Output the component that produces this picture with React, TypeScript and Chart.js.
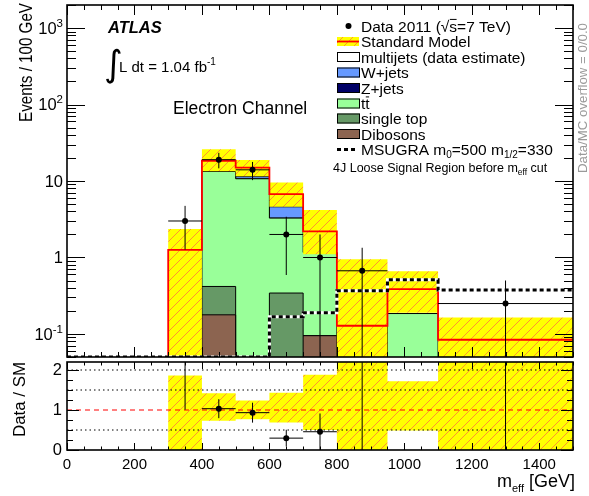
import React, { useEffect, useRef } from "react";
import { Chart, registerables } from "chart.js";

Chart.register(...registerables);

const WIDTH = 589;
const HEIGHT = 496;
const FONT = "'Liberation Sans', Arial, Helvetica, sans-serif";

// Histogram binning in m_eff [GeV]
const binEdges = [0, 100, 200, 300, 400, 500, 600, 700, 800, 950, 1100, 1500];

// Observed data (events / 100 GeV) and its uncertainty
const dataValues = [0, 0, 0, 3, 19, 14, 2, 1, 0.67, 0, 0.25];
const dataErrors = [0, 0, 0, 1.73, 4.36, 3.74, 1.41, 1, 0.67, 0, 0.25];

// Standard Model total and its uncertainty band
const smTotal = [0, 0, 0, 1.26, 18.4, 15.0, 6.74, 2.19, 0.128, 0.386, 0.084];
const smBandLow = [0, 0, 0, 0, 13.4, 11.5, 4.6, 1.1, 0, 0.19, 0];
const smBandHigh = [0, 0, 0, 2.35, 26.1, 18.8, 9.55, 4.17, 0.95, 0.66, 0.164];

// Background components, stacked from the bottom
const dibosons = [0, 0, 0, 0, 0.178, 0, 0, 0.095, 0, 0, 0];
const singleTop = [0, 0, 0, 0, 0.24, 0, 0.343, 0, 0, 0, 0];
const ttbar = [0, 0, 0, 0, 12.9, 10.7, 2.93, 1.07, 0, 0.185, 0];
const zJets = [0, 0, 0, 0, 0, 0, 0, 0, 0, 0, 0];
const wJets = [0, 0, 0, 0, 0, 0.7, 1.33, 0, 0, 0, 0];

// Signal benchmark
const msugra = [0, 0, 0, 0, 0, 0, 0.168, 0.189, 0.367, 0.51, 0.375];

// Relative SM uncertainty in the ratio panel
const ratioBandLow = [0, 0, 0, 0, 0.73, 0.77, 0.69, 0.5, 0, 0.49, 0];
const ratioBandHigh = [0, 0, 0, 1.86, 1.42, 1.24, 1.43, 1.88, 7.4, 1.72, 2.5];

// Axis labels
const logDecades = [-1, 0, 1, 2, 3];
const ratioGuides = [0.5, 1.5, 2];

const FLOOR = 1e-6;
const LOG_MIN = 0.05;
const LOG_MAX = 2000;

type Pt = { x: number; y: number | null };

const centers = binEdges.slice(0, -1).map((e, i) => (e + binEdges[i + 1]) / 2);

function histPoints(values: number[], floor = FLOOR): Pt[] {
  const pts: Pt[] = values.map((v, i) => ({ x: binEdges[i], y: v > 0 ? v : floor }));
  const last = values[values.length - 1];
  pts.push({ x: binEdges[binEdges.length - 1], y: last > 0 ? last : floor });
  return pts;
}

function cumulative(...layers: number[][]): number[] {
  return layers[0].map((_, i) => layers.reduce((s, l) => s + l[i], 0));
}

function verticalBars(vals: number[], errs: number[], floor: number): Pt[] {
  const pts: Pt[] = [];
  vals.forEach((v, i) => {
    if (!(v > 0)) return;
    pts.push({ x: centers[i], y: Math.max(v - errs[i], floor) });
    pts.push({ x: centers[i], y: v + errs[i] });
    pts.push({ x: centers[i], y: null });
  });
  return pts;
}

function horizontalBars(vals: number[]): Pt[] {
  const pts: Pt[] = [];
  vals.forEach((v, i) => {
    if (!(v > 0)) return;
    pts.push({ x: binEdges[i], y: v });
    pts.push({ x: binEdges[i + 1], y: v });
    pts.push({ x: binEdges[i + 1], y: null });
  });
  return pts;
}

function markers(vals: number[]): Pt[] {
  return vals.map((v, i) => ({ x: centers[i], y: v })).filter((p) => (p.y as number) > 0);
}

function hatchPattern(ctx: CanvasRenderingContext2D): CanvasPattern {
  const size = 10;
  const c = document.createElement("canvas");
  c.width = size;
  c.height = size;
  const g = c.getContext("2d")!;
  g.fillStyle = "#ffff00";
  g.fillRect(0, 0, size, size);
  g.strokeStyle = "rgba(255,120,60,0.8)";
  g.lineWidth = 1;
  g.beginPath();
  g.moveTo(0, size);
  g.lineTo(size, 0);
  g.moveTo(-size / 2, size / 2);
  g.lineTo(size / 2, -size / 2);
  g.moveTo(size / 2, size * 1.5);
  g.lineTo(size * 1.5, size / 2);
  g.stroke();
  return ctx.createPattern(c, "repeat")!;
}

function setFont(ctx: CanvasRenderingContext2D, size: number, style = "normal", weight = "normal", family = FONT) {
  ctx.font = `${style} ${weight} ${size}px ${family}`;
}

// Draws consecutive text runs; each run may be shifted (sub/superscript)
function textRuns(
  ctx: CanvasRenderingContext2D,
  runs: { t: string; size: number; dy?: number; bar?: boolean }[],
  x: number,
  y: number,
  color = "#000"
): number {
  ctx.fillStyle = color;
  ctx.strokeStyle = color;
  ctx.textAlign = "left";
  ctx.textBaseline = "alphabetic";
  let cx = x;
  for (const r of runs) {
    setFont(ctx, r.size);
    ctx.fillText(r.t, cx, y + (r.dy ?? 0));
    const w = ctx.measureText(r.t).width;
    if (r.bar) {
      ctx.lineWidth = 1;
      ctx.beginPath();
      const by = y + (r.dy ?? 0) - r.size * 0.78;
      ctx.moveTo(cx + 0.5, by);
      ctx.lineTo(cx + w - 0.5, by);
      ctx.stroke();
    }
    cx += w;
  }
  return cx;
}

// Text squeezed or stretched along its run to a fixed length
function fittedText(
  ctx: CanvasRenderingContext2D,
  s: string,
  x: number,
  y: number,
  size: number,
  length: number,
  angle: number,
  color = "#000"
) {
  ctx.save();
  ctx.translate(x, y);
  ctx.rotate(angle);
  setFont(ctx, size);
  ctx.fillStyle = color;
  ctx.textAlign = "left";
  ctx.textBaseline = "alphabetic";
  const w = ctx.measureText(s).width;
  ctx.scale(length / w, 1);
  ctx.fillText(s, 0, 0);
  ctx.restore();
}

const mainDecor = {
  id: "mainDecor",
  afterDraw(chart: any) {
    const { ctx, chartArea: a, scales } = chart;
    const xs = scales.x;
    const ys = scales.y;
    ctx.save();

    // inward tick marks
    ctx.strokeStyle = "#000";
    ctx.lineWidth = 1;
    ctx.beginPath();
    for (let v = 0; v <= 1500; v += 50) {
      const px = Math.round(xs.getPixelForValue(v)) + 0.5;
      const len = v % 200 === 0 ? 10 : 5;
      ctx.moveTo(px, a.bottom);
      ctx.lineTo(px, a.bottom - len);
      ctx.moveTo(px, a.top);
      ctx.lineTo(px, a.top + len);
    }
    for (let d = -2; d <= 3; d++) {
      for (let k = 1; k <= 9; k++) {
        const v = k * Math.pow(10, d);
        if (v < ys.min || v > ys.max) continue;
        const py = Math.round(ys.getPixelForValue(v)) + 0.5;
        const len = k === 1 ? 18 : 9;
        ctx.moveTo(a.left, py);
        ctx.lineTo(a.left + len, py);
        ctx.moveTo(a.right, py);
        ctx.lineTo(a.right - len, py);
      }
    }
    ctx.stroke();

    // frame
    ctx.lineWidth = 1.6;
    ctx.strokeRect(a.left, a.top, a.right - a.left, a.bottom - a.top);

    // log axis labels
    ctx.fillStyle = "#000";
    for (const d of logDecades) {
      const py = ys.getPixelForValue(Math.pow(10, d));
      const right = 63;
      const base = py + 5.8;
      if (d === 0 || d === 1) {
        setFont(ctx, 16.5);
        ctx.textAlign = "right";
        ctx.textBaseline = "alphabetic";
        ctx.fillText(d === 0 ? "1" : "10", right, base);
      } else {
        const exp = d < 0 ? "-" + Math.abs(d) : String(d);
        setFont(ctx, 11.5);
        const we = ctx.measureText(exp).width;
        setFont(ctx, 16.5);
        const wb = ctx.measureText("10").width;
        textRuns(ctx, [
          { t: "10", size: 16.5 },
          { t: exp, size: 11.5, dy: -7 },
        ], right - wb - we, base);
      }
    }

    // y title
    fittedText(ctx, "Events / 100 GeV", 32, 122, 18, 119, -Math.PI / 2);

    // ATLAS label and luminosity
    setFont(ctx, 16.5, "italic", "bold");
    ctx.textAlign = "left";
    ctx.fillText("ATLAS", 108, 32.5);
    setFont(ctx, 36, "normal", "normal", "'DejaVu Sans', sans-serif");
    ctx.fillText("\u222B", 104, 76);
    textRuns(ctx, [
      { t: "L dt = 1.04 fb", size: 15 },
      { t: "-1", size: 10, dy: -7 },
    ], 119, 71.5);

    setFont(ctx, 17.5);
    ctx.fillText("Electron Channel", 173, 114);

    // legend
    const lx = 337;
    const tx = 361;
    const rows = [26, 41.5, 57, 72.5, 88, 103.5, 118.5, 134, 149.5];
    const fs = 15.5;
    const boxW = 23;
    const boxH = 10;
    const box = (cy: number, fill: string) => {
      ctx.fillStyle = fill;
      ctx.fillRect(lx, cy - boxH / 2, boxW, boxH);
      ctx.strokeStyle = "#000";
      ctx.lineWidth = 1;
      ctx.strokeRect(lx + 0.5, cy - boxH / 2 + 0.5, boxW - 1, boxH - 1);
    };
    // data marker
    ctx.fillStyle = "#000";
    ctx.beginPath();
    ctx.arc(lx + 11.5, rows[0], 3, 0, Math.PI * 2);
    ctx.fill();
    textRuns(ctx, [
      { t: "Data 2011 (", size: fs },
      { t: "\u221A", size: fs },
      { t: "s", size: fs, bar: true },
      { t: "=7 TeV)", size: fs },
    ], tx, rows[0] + 5.5);
    // SM
    ctx.fillStyle = (chart as any).$hatch || "#ffff00";
    ctx.fillRect(lx, rows[1] - 4.5, boxW - 1, 9);
    ctx.strokeStyle = "#ff0000";
    ctx.lineWidth = 1.8;
    ctx.beginPath();
    ctx.moveTo(lx, rows[1]);
    ctx.lineTo(lx + boxW - 1, rows[1]);
    ctx.stroke();
    textRuns(ctx, [{ t: "Standard Model", size: fs }], tx, rows[1] + 5.5);
    box(rows[2], "#ffffff");
    textRuns(ctx, [{ t: "multijets (data estimate)", size: fs }], tx, rows[2] + 5.5);
    box(rows[3], "#6699ff");
    textRuns(ctx, [{ t: "W+jets", size: fs }], tx, rows[3] + 5.5);
    box(rows[4], "#000066");
    textRuns(ctx, [{ t: "Z+jets", size: fs }], tx, rows[4] + 5.5);
    box(rows[5], "#99ff99");
    textRuns(ctx, [
      { t: "t", size: fs },
      { t: "t", size: fs, bar: true },
    ], tx, rows[5] + 5.5);
    box(rows[6], "#669966");
    textRuns(ctx, [{ t: "single top", size: fs }], tx, rows[6] + 5.5);
    box(rows[7], "#8c6450");
    textRuns(ctx, [{ t: "Dibosons", size: fs }], tx, rows[7] + 5.5);
    ctx.strokeStyle = "#000";
    ctx.lineWidth = 3;
    ctx.setLineDash([4, 3]);
    ctx.beginPath();
    ctx.moveTo(lx, rows[8]);
    ctx.lineTo(lx + 21, rows[8]);
    ctx.stroke();
    ctx.setLineDash([]);
    textRuns(ctx, [
      { t: "MSUGRA m", size: fs },
      { t: "0", size: 10, dy: 3 },
      { t: "=500 m", size: fs },
      { t: "1/2", size: 10, dy: 3 },
      { t: "=330", size: fs },
    ], tx, rows[8] + 5.5);

    textRuns(ctx, [
      { t: "4J Loose Signal Region before m", size: 12.5 },
      { t: "eff", size: 8.5, dy: 3 },
      { t: " cut", size: 12.5 },
    ], 333, 172);

    fittedText(ctx, "Data/MC overflow = 0/0.0", 587, 173, 13, 150, -Math.PI / 2, "#9a9a9a");

    ctx.restore();
  },
};

const ratioDecor = {
  id: "ratioDecor",
  afterDraw(chart: any) {
    const { ctx, chartArea: a, scales } = chart;
    const xs = scales.x;
    const ys = scales.y;
    ctx.save();
    ctx.strokeStyle = "#000";
    ctx.lineWidth = 1;
    ctx.beginPath();
    for (let v = 0; v <= 1500; v += 50) {
      const px = Math.round(xs.getPixelForValue(v)) + 0.5;
      const len = v % 200 === 0 ? 7 : 3.5;
      ctx.moveTo(px, a.bottom);
      ctx.lineTo(px, a.bottom - len);
      ctx.moveTo(px, a.top);
      ctx.lineTo(px, a.top + len);
    }
    for (let v = 0; v <= 2.2 + 1e-9; v += 0.25) {
      const py = Math.round(ys.getPixelForValue(v)) + 0.5;
      const len = Math.abs(v - Math.round(v)) < 1e-9 ? 12 : 6;
      ctx.moveTo(a.left, py);
      ctx.lineTo(a.left + len, py);
      ctx.moveTo(a.right, py);
      ctx.lineTo(a.right - len, py);
    }
    ctx.stroke();
    ctx.lineWidth = 1.6;
    ctx.strokeRect(a.left, a.top, a.right - a.left, a.bottom - a.top);

    fittedText(ctx, "Data / SM", 25, 437, 17, 75, -Math.PI / 2);

    // x title, right-aligned to the frame
    setFont(ctx, 18);
    const wTail = ctx.measureText(" [GeV]").width;
    setFont(ctx, 11);
    const wSub = ctx.measureText("eff").width;
    setFont(ctx, 18);
    const wM = ctx.measureText("m").width;
    const start = a.right - wTail - wSub - wM + 2;
    textRuns(ctx, [
      { t: "m", size: 18 },
      { t: "eff", size: 11, dy: 5 },
      { t: " [GeV]", size: 18 },
    ], start, 486.5);
    ctx.restore();
  },
};

function lineSet(label: string, data: Pt[], extra: any = {}) {
  return {
    type: "line",
    label,
    data,
    pointRadius: 0,
    borderWidth: 1,
    borderColor: "#000",
    backgroundColor: "transparent",
    fill: false,
    tension: 0,
    spanGaps: false,
    ...extra,
  };
}

export default function App() {
  const mainRef = useRef<HTMLCanvasElement>(null);
  const ratioRef = useRef<HTMLCanvasElement>(null);

  useEffect(() => {
    const mainCanvas = mainRef.current!;
    const ratioCanvas = ratioRef.current!;
    const hatchMain = hatchPattern(mainCanvas.getContext("2d")!);
    const hatchRatio = hatchPattern(ratioCanvas.getContext("2d")!);

    const cumDib = dibosons;
    const cumTop = cumulative(dibosons, singleTop);
    const cumTt = cumulative(dibosons, singleTop, ttbar);
    const cumZ = cumulative(dibosons, singleTop, ttbar, zJets);
    const cumW = cumulative(dibosons, singleTop, ttbar, zJets, wJets);
    const msugraDrawn = msugra.map((v) => (v > 0 ? v : LOG_MIN));

    // first dataset is drawn on top
    const mainSets: any[] = [
      {
        type: "scatter",
        label: "data",
        data: markers(dataValues),
        pointRadius: 3,
        pointBackgroundColor: "#000",
        pointBorderWidth: 0,
        showLine: false,
      },
      lineSet("data-y-err", verticalBars(dataValues, dataErrors, FLOOR)),
      lineSet("data-x-err", horizontalBars(dataValues)),
      lineSet("msugra", histPoints(msugraDrawn), {
        stepped: "before",
        borderWidth: 3,
        borderDash: [4, 3],
        borderColor: "#000",
      }),
      lineSet("msugra-under", histPoints(msugraDrawn), {
        stepped: "before",
        borderWidth: 3,
        borderColor: "#fff",
      }),
      lineSet("sm", histPoints(smTotal), { stepped: "before", borderWidth: 1.8, borderColor: "#ff0000" }),
      lineSet("sm-high", histPoints(smBandHigh), {
        stepped: "before",
        borderWidth: 0,
        fill: "+1",
        backgroundColor: hatchMain,
      }),
      lineSet("sm-low", histPoints(smBandLow), { stepped: "before", borderWidth: 0 }),
      lineSet("dibosons", histPoints(cumDib), { stepped: "before", fill: "start", backgroundColor: "#8c6450" }),
      lineSet("single top", histPoints(cumTop), { stepped: "before", fill: "start", backgroundColor: "#669966" }),
      lineSet("ttbar", histPoints(cumTt), { stepped: "before", fill: "start", backgroundColor: "#99ff99" }),
      lineSet("Z+jets", histPoints(cumZ), { stepped: "before", fill: "start", backgroundColor: "#000066" }),
      lineSet("W+jets", histPoints(cumW), { stepped: "before", fill: "start", backgroundColor: "#6699ff" }),
    ];

    const mainChart = new Chart(mainCanvas, {
      type: "line",
      data: { datasets: mainSets },
      options: {
        responsive: false,
        animation: false,
        events: [],
        layout: { padding: { left: 67, right: 16, top: 5, bottom: 139 } },
        plugins: { legend: { display: false }, tooltip: { enabled: false } },
        scales: {
          x: { type: "linear", min: 0, max: 1500, display: false },
          y: { type: "logarithmic", min: LOG_MIN, max: LOG_MAX, display: false },
        },
      },
      plugins: [mainDecor],
    } as any);
    (mainChart as any).$hatch = hatchMain;
    mainChart.draw();

    const ratioVals = dataValues.map((v, i) => (smTotal[i] > 0 ? v / smTotal[i] : 0));
    const ratioErrs = dataErrors.map((e, i) => (smTotal[i] > 0 ? e / smTotal[i] : 0));
    const guidePts: Pt[] = [];
    ratioGuides.forEach((g) => {
      guidePts.push({ x: 0, y: g }, { x: 1500, y: g }, { x: 1500, y: null });
    });

    const ratioSets: any[] = [
      {
        type: "scatter",
        label: "ratio",
        data: markers(ratioVals),
        pointRadius: 3,
        pointBackgroundColor: "#000",
        pointBorderWidth: 0,
        showLine: false,
      },
      lineSet("ratio-y-err", verticalBars(ratioVals, ratioErrs, -1)),
      lineSet("ratio-x-err", horizontalBars(ratioVals)),
      lineSet("unity", [{ x: 0, y: 1 }, { x: 1500, y: 1 }], {
        borderColor: "#ff0000",
        borderDash: [5, 4],
      }),
      lineSet("guides", guidePts, { borderDash: [1.5, 3] }),
      lineSet("band-high", histPoints(ratioBandHigh, 0), {
        stepped: "before",
        borderWidth: 0,
        fill: "+1",
        backgroundColor: hatchRatio,
      }),
      lineSet("band-low", histPoints(ratioBandLow, 0), { stepped: "before", borderWidth: 0 }),
    ];

    const ratioChart = new Chart(ratioCanvas, {
      type: "line",
      data: { datasets: ratioSets },
      options: {
        responsive: false,
        animation: false,
        events: [],
        layout: { padding: { left: 0, right: 16, top: 362, bottom: 0 } },
        plugins: { legend: { display: false }, tooltip: { enabled: false } },
        scales: {
          x: {
            type: "linear",
            min: 0,
            max: 1500,
            grid: { display: false, drawTicks: false },
            border: { display: false },
            ticks: {
              stepSize: 200,
              includeBounds: false,
              color: "#000",
              padding: 6,
              maxRotation: 0,
              font: { family: FONT, size: 15 },
              callback: (v: any) => String(v),
            },
            afterFit: (s: any) => {
              s.height = 46;
            },
          },
          y: {
            type: "linear",
            min: 0,
            max: 2.2,
            grid: { display: false, drawTicks: false },
            border: { display: false },
            ticks: {
              stepSize: 1,
              includeBounds: false,
              color: "#000",
              padding: 5,
              font: { family: FONT, size: 16.5 },
              callback: (v: any) => String(v),
            },
            afterFit: (s: any) => {
              s.width = 67;
            },
          },
        },
      },
      plugins: [ratioDecor],
    } as any);

    return () => {
      mainChart.destroy();
      ratioChart.destroy();
    };
  }, []);

  const canvasStyle: React.CSSProperties = {
    position: "absolute",
    left: 0,
    top: 0,
    width: WIDTH,
    height: HEIGHT,
  };

  return (
    <div
      style={{
        position: "fixed",
        left: 0,
        top: 0,
        width: WIDTH,
        height: HEIGHT,
        background: "#fff",
      }}
    >
      <canvas ref={mainRef} width={WIDTH} height={HEIGHT} style={canvasStyle} />
      <canvas ref={ratioRef} width={WIDTH} height={HEIGHT} style={canvasStyle} />
    </div>
  );
}
